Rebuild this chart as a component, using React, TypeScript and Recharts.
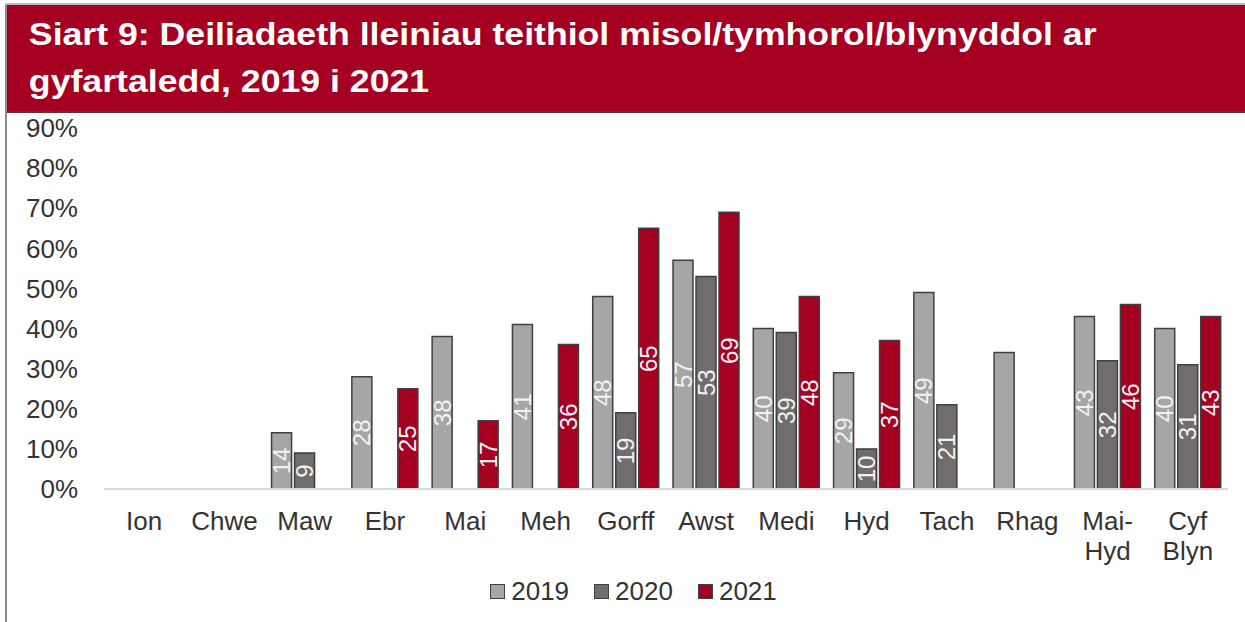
import React from 'react'
import { BarChart, Bar, XAxis, YAxis, Legend, LabelList } from 'recharts'

// Monthly / seasonal / annual pitch occupancy, % (Welsh month abbreviations)
const months = ['Ion', 'Chwe', 'Maw', 'Ebr', 'Mai', 'Meh', 'Gorff', 'Awst', 'Medi', 'Hyd', 'Tach', 'Rhag', 'Mai-Hyd', 'Cyf Blyn']
const values2019 = [null, null, 14, 28, 38, 41, 48, 57, 40, 29, 49, 34, 43, 40]
const values2020 = [null, null, 9, null, null, null, 19, 53, 39, 10, 21, null, 32, 31]
const values2021 = [null, null, null, 25, 17, 36, 65, 69, 48, 37, null, null, 46, 43]
// the Rhag 2019 bar carries no data label in the source
const labels2019 = [null, null, 14, 28, 38, 41, 48, 57, 40, 29, 49, null, 43, 40]
const yTicks = [0, 10, 20, 30, 40, 50, 60, 70, 80, 90]

const series = [
  { key: 'y2019', name: '2019', fill: '#A6A6A6', label: 'l2019' },
  { key: 'y2020', name: '2020', fill: '#716D6C', label: 'y2020' },
  { key: 'y2021', name: '2021', fill: '#A50021', label: 'y2021' },
]

const data = months.map((m, i) => ({
  month: m,
  y2019: values2019[i],
  y2020: values2020[i],
  y2021: values2021[i],
  l2019: labels2019[i],
}))

const FONT = '"Liberation Sans", Arial, sans-serif'
const TEXT = '#333333'

const MonthTick = (props: any) => {
  const { x, y, payload } = props
  const lines = String(payload.value).replace('-', '- ').split(' ')
  return (
    <text x={x} y={y} textAnchor="middle" fontSize={26} fill={TEXT} fontFamily={FONT}>
      {lines.map((l, i) => (
        <tspan key={i} x={x} dy={i === 0 ? 18 : 30}>{l}</tspan>
      ))}
    </text>
  )
}

const LegendBox = () => (
  <div style={{ display: 'flex', justifyContent: 'center', gap: 25, paddingLeft: 39, fontFamily: FONT, fontSize: 26, color: TEXT, lineHeight: '30px' }}>
    {series.map((s) => (
      <div key={s.key} style={{ display: 'flex', alignItems: 'center' }}>
        <span style={{ width: 13, height: 13, background: s.fill, border: '1px solid #404040', marginRight: 6, display: 'inline-block' }} />
        {s.name}
      </div>
    ))}
  </div>
)

export default function App() {
  return (
    <div style={{ position: 'absolute', left: 0, top: 0, width: 1245, height: 622, background: '#fff', overflow: 'hidden' }}>
      <div style={{ position: 'absolute', left: 5, top: 4, width: 2, height: 618, background: '#8c8c8c' }} />
      <div style={{ position: 'absolute', left: 5, top: 3, width: 1240, height: 2, background: '#bdbdbd' }} />
      <div
        style={{
          position: 'absolute', left: 7, top: 5, width: 1238, height: 106,
          background: '#A50021', borderBottom: '2px solid #6b2b33',
        }}
      >
        <div
          style={{
            color: '#fff', fontFamily: FONT, fontWeight: 700, fontSize: 31, lineHeight: '47px',
            paddingTop: 6, paddingLeft: 19, transform: 'scaleX(1.15)', transformOrigin: 'left top', whiteSpace: 'nowrap',
          }}
        >
          Siart 9: Deiliadaeth lleiniau teithiol misol/tymhorol/blynyddol ar<br />gyfartaledd, 2019 i 2021
        </div>
      </div>
      <div style={{ position: 'absolute', left: 0, top: 112 }}>
        <BarChart width={1245} height={510} data={data} margin={{ top: 16, right: 17, left: 0, bottom: 16 }} barSize={20} barGap={3}>
          <XAxis
            dataKey="month"
            height={87}
            interval={0}
            tickLine={false}
            tickSize={0}
            tickMargin={23}
            axisLine={{ stroke: '#D9D9D9', strokeWidth: 2 }}
            tick={<MonthTick />}
          />
          <YAxis
            width={104}
            domain={[0, 90]}
            ticks={yTicks}
            interval={0}
            axisLine={false}
            tickLine={false}
            tickSize={0}
            tickMargin={26}
            tickFormatter={(v: number) => `${v}%`}
            tick={{ fontSize: 26, fill: TEXT, fontFamily: FONT }}
          />
          <Legend verticalAlign="bottom" height={30} content={<LegendBox />} />
          {series.map((s) => (
            <Bar key={s.key} dataKey={s.key} name={s.name} fill={s.fill} stroke="#404040" strokeWidth={1.5} isAnimationActive={false}>
              <LabelList
                dataKey={s.label}
                position="center"
                angle={-90}
                fill="#F2F2F2"
                fontSize={24}
                fontFamily={FONT}
              />
            </Bar>
          ))}
        </BarChart>
      </div>
    </div>
  )
}
